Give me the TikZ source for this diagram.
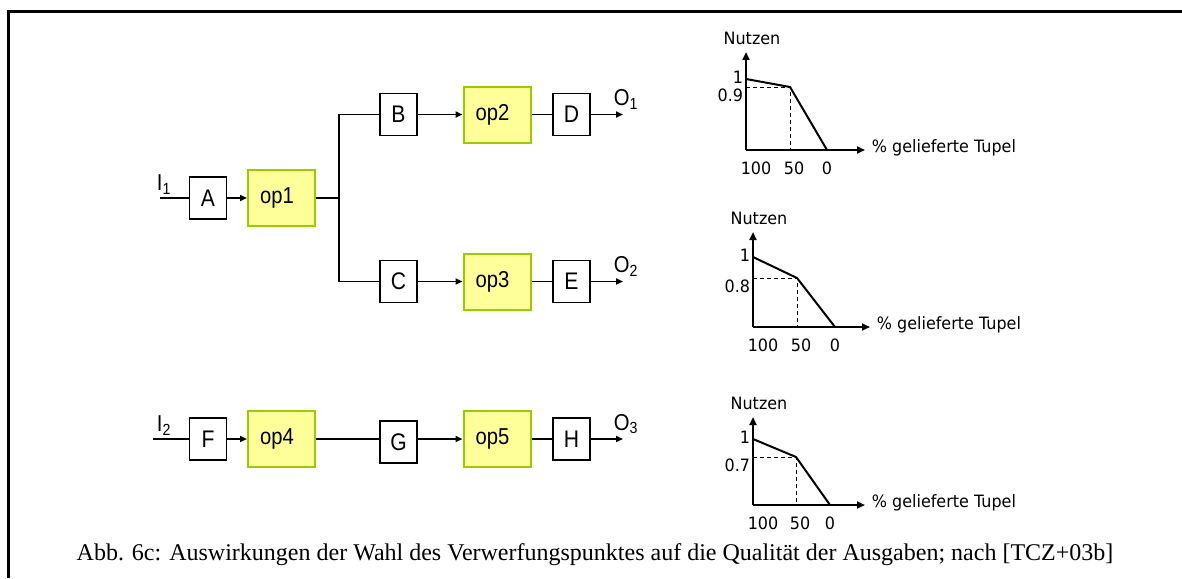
\documentclass[tikz,border=0pt]{standalone}
\usepackage{fontspec}
\setmainfont{Liberation Serif}
\newfontfamily\boxfont[FakeStretch=0.88]{Liberation Sans}
\newfontfamily\plotfont[FakeStretch=0.94]{DejaVu Sans}
\usetikzlibrary{arrows.meta}
\definecolor{opfill}{RGB}{255,255,153}
\definecolor{opline}{RGB}{153,204,0}

\begin{document}
\begin{tikzpicture}[x=1pt, y=-1pt, line width=1.8pt,
  >={Triangle[length=7pt, width=6pt]},
  buf/.style={draw, line width=1.6pt, fill=white, minimum width=37pt, minimum height=42pt,
    inner sep=0pt, font=\boxfont\fontsize{24}{26}\selectfont},
  op/.style={buf, draw=opline, fill=opfill, line width=2pt, minimum width=67pt, minimum height=56pt,
    font=\boxfont\fontsize{23}{25}\selectfont, execute at begin node=\hspace*{-9pt}},
  port/.style={inner sep=0pt, anchor=south west, font=\boxfont\fontsize{23}{25}\selectfont},
  lbl/.style={inner sep=0pt, font=\plotfont\fontsize{17}{19}\selectfont}]
  \useasboundingbox (0,0) rectangle (1182,578);
  \draw[line width=3pt] (8,578) -- (8,12) -- (1182,12);

  % upper net: op1 forks into two branches
  \coordinate (i1) at (160,198);
  \node[buf] (A) at (208,198) {A};
  \node[op] (op1) at (281.5,198) {op1};
  \coordinate (fork) at (339,198);
  \node[buf] (B) at (398.5,114.5) {B};
  \node[op] (op2) at (497,114.5) {op2};
  \node[buf] (D) at (571.5,114.5) {D};
  \coordinate (o1) at (623,114.5);
  \node[buf] (C) at (398.5,281.5) {C};
  \node[op] (op3) at (497,281.5) {op3};
  \node[buf] (E) at (571.5,281.5) {E};
  \coordinate (o2) at (623,281.5);
  \node[port] (I1) at (156,195) {I\textsubscript{1}};
  \node[port] (O1) at (613,110) {O\textsubscript{1}};
  \node[port] (O2) at (613,277) {O\textsubscript{2}};

  \draw (i1) -- (A);
  \draw[->] (A) -- (op1);
  \draw (op1) -- (fork);
  \draw (B) -| (fork) |- (C);
  \draw[->] (B) -- (op2);
  \draw (op2) -- (D);
  \draw[->] (D) -- (o1);
  \draw[->] (C) -- (op3);
  \draw (op3) -- (E);
  \draw[->] (E) -- (o2);

  % lower net
  \coordinate (i2) at (153,439);
  \node[buf] (F) at (208,439) {F};
  \node[op] (op4) at (281.5,439) {op4};
  \node[buf] (G) at (398.5,442) {G};
  \node[op] (op5) at (497,439) {op5};
  \node[buf] (H) at (571.5,439) {H};
  \coordinate (o3) at (623,439);
  \node[port] (I2) at (156,436) {I\textsubscript{2}};
  \node[port] (O3) at (613,435) {O\textsubscript{3}};

  \draw (i2) -- (F);
  \draw[->] (F) -- (op4);
  \draw (op4) -- (op4 -| G.west);
  \draw[->] (G.east |- op5) -- (op5);
  \draw (op5) -- (H);
  \draw[->] (H) -- (o3);

  % utility curves
  \foreach \n/\ox/\oy/\ty/\ex/\ya/\xm/\ym/\xz/\v in {1/746/150/52/865/79/790/87/827/0.9,
      2/753/327/232/870/257/797/278/835/0.8, 3/753/505/417/865/439/796/457/830/0.7} {
    \draw[dashed, line width=1pt, dash pattern=on 4pt off 3pt] (\ox,\ym) -- (\xm,\ym) -- (\xm,\oy);
    \draw[-{Triangle[length=8pt, width=7pt]}, line width=2pt] (\ox,\oy) -- (\ox,\ty);
    \draw[-{Triangle[length=8pt, width=7pt]}, line width=2pt] (\ox,\oy) -- (\ex,\oy);
    \draw[line width=2pt, line join=round] (\ox,\ya) -- (\xm,\ym) -- (\xz,\oy);
    \node[lbl, anchor=south] (nu\n) at (\ox+6,\ty-6) {Nutzen};
    \node[lbl, anchor=base west] (tu\n) at (\ex+6,\oy+2) {\% gelieferte Tupel};
    \node[lbl, anchor=east] (one\n) at (\ox-2,\ya-2) {1};
    \node[lbl, anchor=north east] (val\n) at (\ox-2,\ym+1) {\v};
    \node[lbl, anchor=north] (p100\n) at (\ox+10,\oy+11) {100};
    \node[lbl, anchor=north] (p50\n) at (\xm+4,\oy+11) {50};
    \node[lbl, anchor=north] (p0\n) at (\xz,\oy+11) {0};
  }

  \node[font=\fontsize{24}{26}\selectfont] (cap) at (595,555)
    {Abb. 6c: Auswirkungen der Wahl des Verwerfungspunktes auf die Qualität der Ausgaben; nach [TCZ+03b]};
\end{tikzpicture}
\end{document}
